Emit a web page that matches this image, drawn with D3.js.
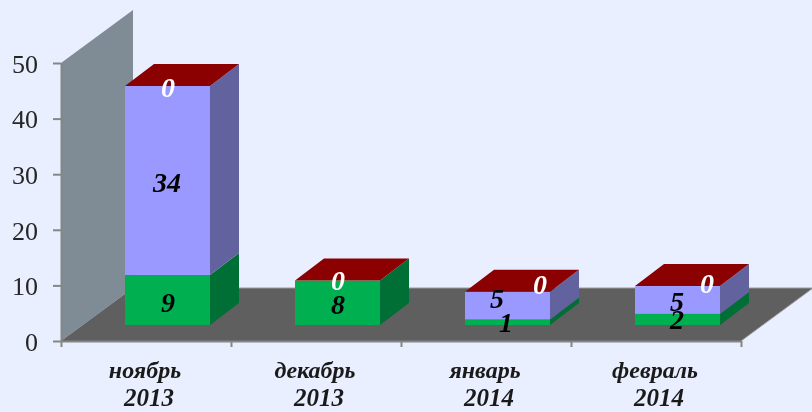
<!DOCTYPE html>
<html>
<head>
<meta charset="utf-8">
<script src="https://cdn.jsdelivr.net/npm/d3@7/dist/d3.min.js"></script>
<style>
  html, body { margin: 0; padding: 0; background: #e9effe; }
  svg { display: block; filter: blur(0.4px); }
  text { font-family: "Liberation Serif", serif; }
</style>
</head>
<body>
<div id="chart"></div>
<script>
const months = ["ноябрь", "декабрь", "январь", "февраль"];
const years = ["2013", "2013", "2014", "2014"];
const seriesA = [9, 8, 1, 2];
const seriesB = [34, 0, 5, 5];
const seriesC = [0, 0, 0, 0];
const yTicks = [0, 10, 20, 30, 40, 50];

const width = 812, height = 412;
const front = { left: 61, right: 741, bottom: 341, top: 63 };

// depth of the 3d floor, and where the bars sit inside it
const depth = { dx: 72, dy: 53 };
const barShift = { dx: 21.5, dy: 16 };
const barDepth = { dx: 29, dy: 22 };

const colors = {
  a: { face: "#00b050", side: "#006f35" },
  b: { face: "#9999ff", side: "#62629f" },
  c: { face: "#ad0000", side: "#6b0000", top: "#8b0000" }
};

// hand placed nudges for the value labels: [series][month] -> [x from bar left, y]
const nudges = {
  a: [[43, 2], [43, 1], [41, 0], [42, 0]],
  b: [[42, 2], [0, 0], [32, -7], [42, 1]],
  c: [[43, 1], [43, 0], [75, -7], [72, -3]]
};
const labelColors = { a: "#000", b: "#000", c: "#fff" };

const svg = d3.select("#chart").append("svg")
  .attr("width", width).attr("height", height);

const x = d3.scaleBand().domain(months)
  .range([front.left, front.right])
  .paddingInner(0.5).paddingOuter(0.25);
const y = d3.scaleLinear().domain([0, 50]).range([front.bottom, front.top]);
const edges = d3.scalePoint().domain(d3.range(months.length + 1))
  .range([front.left, front.right]);

const rows = months.map((m, i) => ({ month: m, a: seriesA[i], b: seriesB[i], c: seriesC[i] }));
const stack = d3.stack().keys(["a", "b", "c"])(rows);
const poly = pts => d3.line()(pts) + "Z";

// wall and floor
svg.append("path")
  .attr("d", poly([
    [front.left, y(0)], [front.left + depth.dx, y(0) - depth.dy],
    [front.left + depth.dx, y(50) - depth.dy], [front.left, y(50)]
  ]))
  .attr("fill", "#7f8c96");
svg.append("path")
  .attr("d", poly([
    [front.left, y(0)], [front.right, y(0)],
    [front.right + depth.dx, y(0) - depth.dy], [front.left + depth.dx, y(0) - depth.dy]
  ]))
  .attr("fill", "#5f5f5f");
svg.append("path")
  .attr("d", `M${front.right},${y(0)}L${front.right + depth.dx},${y(0) - depth.dy}L${front.left + depth.dx},${y(0) - depth.dy}`)
  .attr("fill", "none").attr("stroke", "#9a9a9a").attr("stroke-width", 1);

// axes
const axisY = svg.append("g")
  .attr("transform", `translate(${front.left},0)`)
  .call(d3.axisLeft(y).tickValues(yTicks).tickSize(8).tickSizeOuter(0));
axisY.selectAll("text")
  .attr("font-size", 26).attr("fill", "#262626")
  .attr("font-family", "Liberation Serif").attr("x", -23).attr("y", 1);
svg.append("g")
  .attr("transform", `translate(0,${front.bottom})`)
  .call(d3.axisBottom(edges).tickSize(6).tickSizeOuter(0).tickFormat(""));
svg.selectAll(".domain, .tick line").attr("stroke", "#868686").attr("stroke-width", 2);

// bars, series by series from the bottom up
const sx = d => x(d.data.month) + barShift.dx;
const sy = v => y(v) - barShift.dy;

const layers = svg.selectAll("g.layer").data(stack).join("g").attr("class", "layer");
layers.each(function (s) {
  const g = d3.select(this);
  const c = colors[s.key];
  g.selectAll("path.side").data(s).join("path")
    .attr("class", "side")
    .attr("fill", c.side)
    .attr("d", d => {
      const r = sx(d) + x.bandwidth();
      return poly([
        [r, sy(d[0])], [r + barDepth.dx, sy(d[0]) - barDepth.dy],
        [r + barDepth.dx, sy(d[1]) - barDepth.dy], [r, sy(d[1])]
      ]);
    });
  g.selectAll("rect").data(s).join("rect")
    .attr("x", sx)
    .attr("y", d => sy(d[1]))
    .attr("width", x.bandwidth())
    .attr("height", d => sy(d[0]) - sy(d[1]))
    .attr("fill", c.face);
});

// top lids of the stacks
const topLayer = stack[stack.length - 1];
svg.selectAll("path.lid").data(topLayer).join("path")
  .attr("class", "lid")
  .attr("fill", colors.c.top)
  .attr("d", d => {
    const l = sx(d), r = l + x.bandwidth(), t = sy(d[1]);
    return poly([
      [l, t], [r, t],
      [r + barDepth.dx, t - barDepth.dy], [l + barDepth.dx, t - barDepth.dy]
    ]);
  });

// value labels, the empty purple segment of december has none
stack.forEach(s => {
  const shown = s.filter(d => !(s.key === "b" && d.data.b === 0));
  svg.selectAll(`text.v-${s.key}`).data(shown).join("text")
    .attr("class", `v-${s.key}`)
    .attr("x", d => sx(d) + nudges[s.key][months.indexOf(d.data.month)][0])
    .attr("y", d => sy((d[0] + d[1]) / 2) + nudges[s.key][months.indexOf(d.data.month)][1])
    .attr("dy", "0.35em")
    .attr("text-anchor", "middle")
    .attr("font-size", 28).attr("font-weight", "bold").attr("font-style", "italic")
    .attr("fill", labelColors[s.key])
    .text(d => d.data[s.key]);
});

// category labels on two lines
const cats = svg.selectAll("g.cat").data(months).join("g")
  .attr("class", "cat")
  .attr("transform", m => `translate(${x(m) + x.bandwidth() / 2},0)`)
  .attr("text-anchor", "middle")
  .attr("font-weight", "bold").attr("font-style", "italic")
  .attr("fill", "#1a1a1a");
cats.append("text").attr("x", -1).attr("y", 378).attr("font-size", 24).text(m => m);
cats.append("text").attr("x", 3).attr("y", 406).attr("font-size", 25).text((m, i) => years[i]);
</script>
</body>
</html>
